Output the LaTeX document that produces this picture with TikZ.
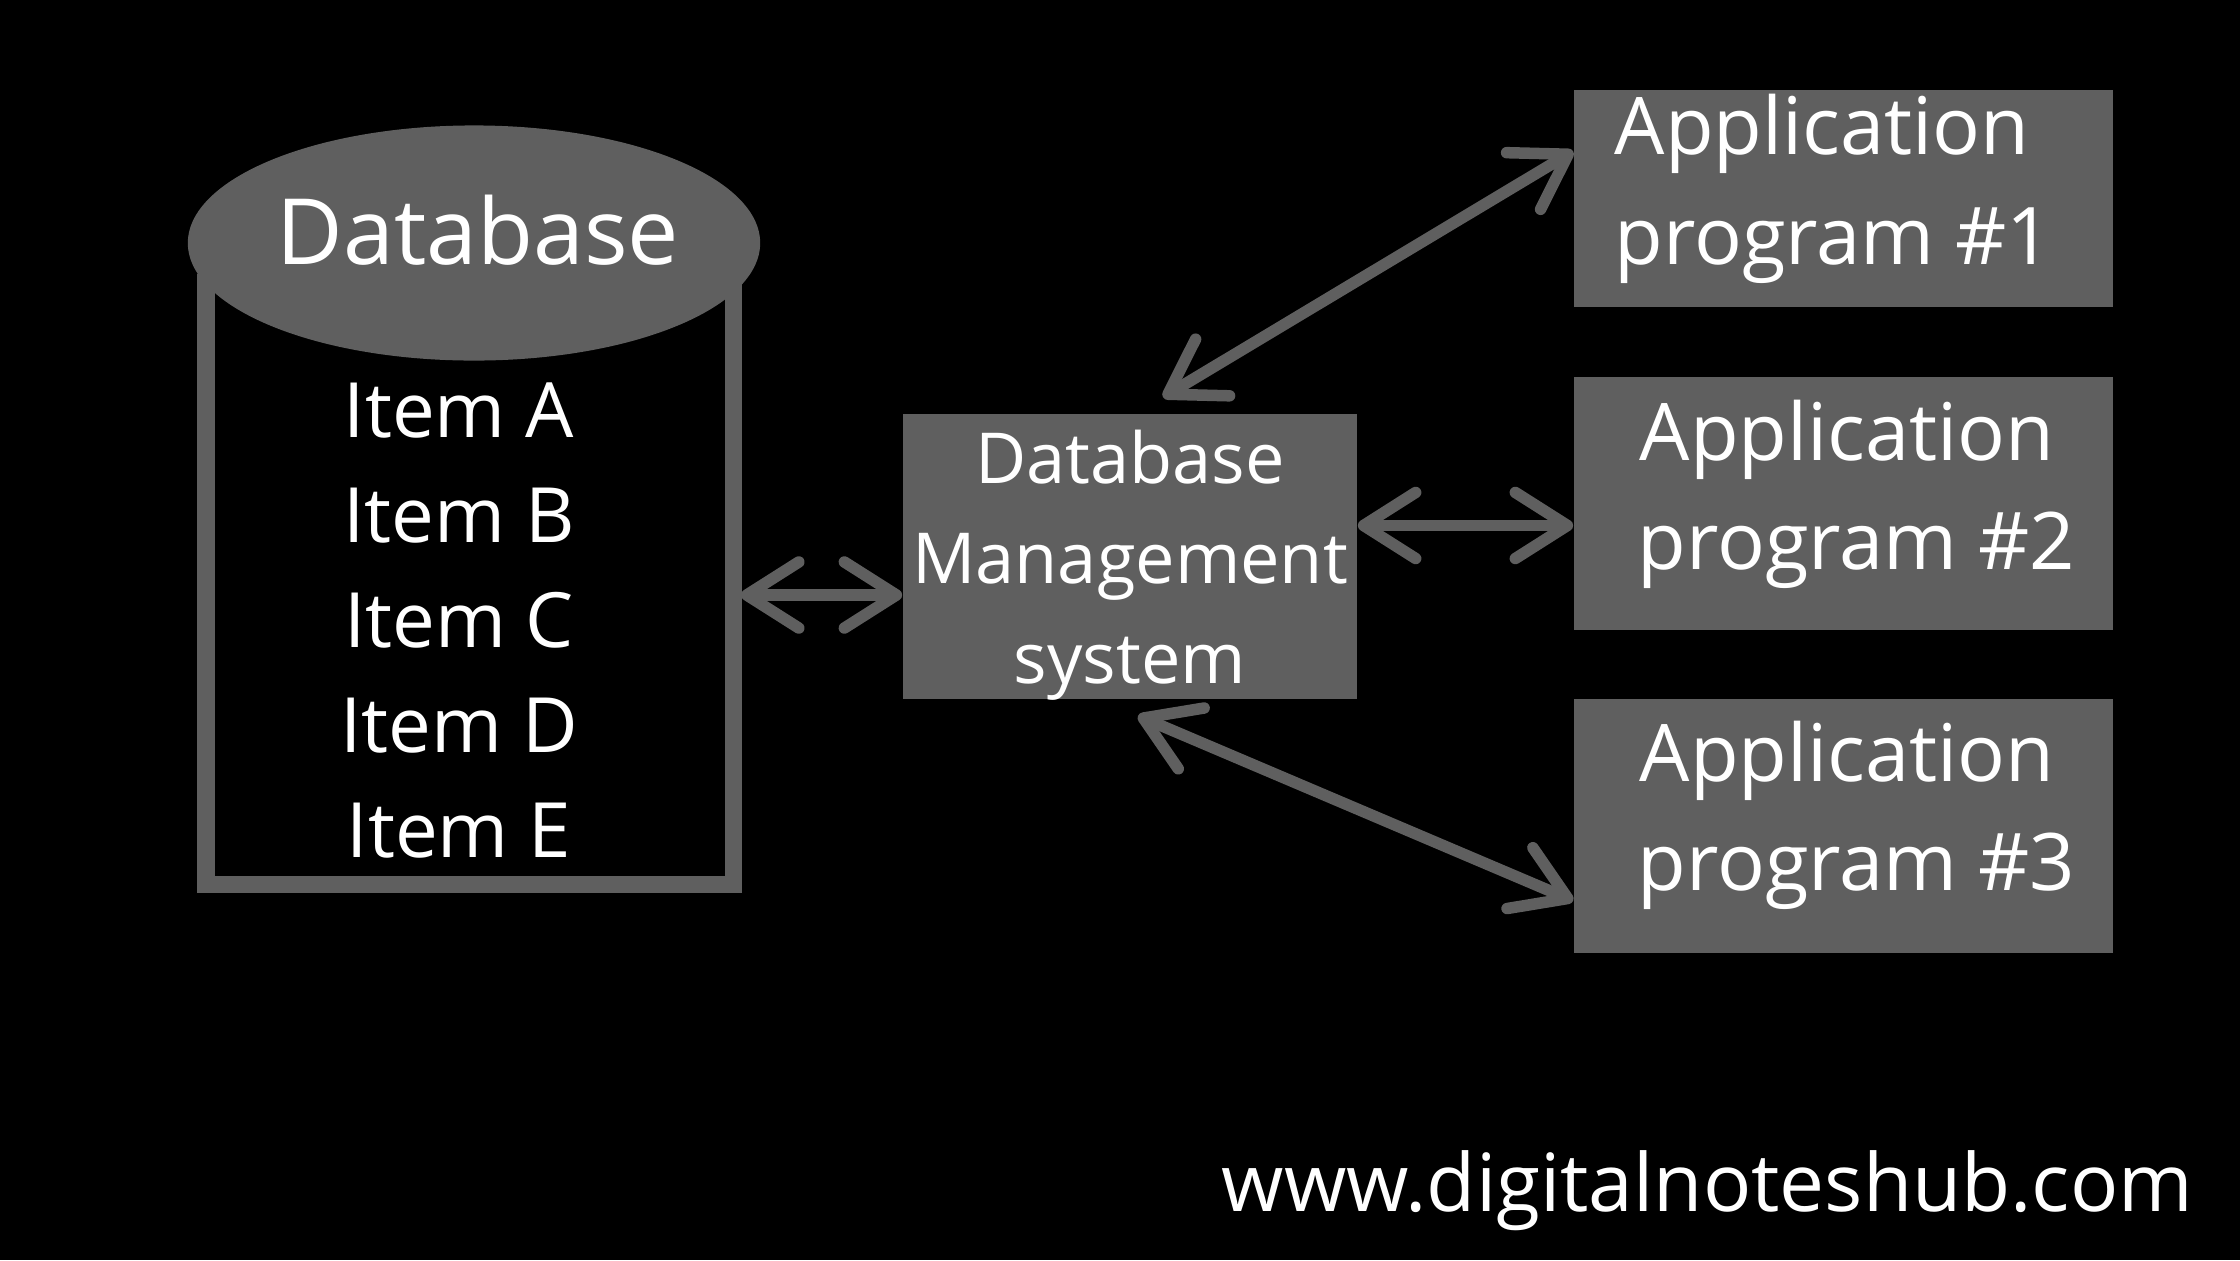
\documentclass[tikz,border=0pt]{standalone}
\usepackage{fontspec}
\setmainfont{Open Sans}
\usetikzlibrary{arrows.meta,shapes.geometric}
\definecolor{boxgray}{HTML}{5F5F5F}
\begin{document}
\begin{tikzpicture}[x=0.01cm,y=-0.01cm,
  box/.style={fill=boxgray, draw=none, inner sep=0, minimum width=5.39cm},
  txt/.style={text=white, inner sep=0},
  wall/.style={draw=boxgray, line width=1.7mm},
  itemtxt/.style={txt, anchor=base, font=\fontsize{21.7}{26}\selectfont},
  dbmstxt/.style={txt, anchor=base, font=\fontsize{20}{24}\selectfont},
  apptxt/.style={txt, anchor=base west, font=\fontsize{22.6}{27}\selectfont},
  link/.style={draw=boxgray, line width=1.15mm,
    {Straight Barb[length=5.2mm,width=6.6mm,round]}-{Straight Barb[length=5.2mm,width=6.6mm,round]}},
]
\fill[black] (0,0) rectangle (2240,1260);
\useasboundingbox (0,0) rectangle (2240,1260);

% database cylinder
\draw[wall] (206,274) -- (206,884) -- (733,884) -- (733,284);
\node[ellipse, fill=boxgray, inner sep=0, minimum width=5.72cm, minimum height=2.35cm] (dbtop) at (474,243) {};
\node[txt, anchor=base, font=\fontsize{26}{30}\selectfont] (dbtitle) at (478,264) {Database};
\node[itemtxt] (itA) at (459,437) {Item A};
\node[itemtxt] (itB) at (459,542) {Item B};
\node[itemtxt] (itC) at (459,647) {Item C};
\node[itemtxt] (itD) at (459,752) {Item D};
\node[itemtxt] (itE) at (459,857) {Item E};

% DBMS
\node[box, minimum width=4.54cm, minimum height=2.85cm] (dbms) at (1130,556.5) {};
\node[dbmstxt] (dbms1) at (1130,483) {Database};
\node[dbmstxt] (dbms2) at (1130,583) {Management};
\node[dbmstxt] (dbms3) at (1130,683) {system};

% applications
\node[box, minimum height=2.17cm] (app1) at (1843.5,198.5) {};
\node[box, minimum height=2.53cm] (app2) at (1843.5,503.5) {};
\node[box, minimum height=2.54cm] (app3) at (1843.5,826) {};
\node[apptxt] (app1a) at (1614,154) {Application};
\node[apptxt] (app1b) at (1614,264) {program \#1};
\node[apptxt] (app2a) at (1639,460) {Application};
\node[apptxt] (app2b) at (1637,569) {program \#2};
\node[apptxt] (app3a) at (1639,781) {Application};
\node[apptxt] (app3b) at (1637,890) {program \#3};

% connectors
\coordinate (dbport) at (741,595);
\draw[link] (dbport) -- (dbms.west |- dbport);
\draw[link] ([xshift=0.33cm,yshift=0.16cm]dbms.north) -- ([yshift=-0.62cm]app1.north west);
\coordinate (p2) at ([yshift=0.31cm]dbms.east);
\draw[link] (p2) -- (p2 -| app2.west);
\draw[link] ([xshift=0.08cm,yshift=-0.16cm]dbms.south) -- ([yshift=0.53cm]app3.south west);

% watermark
\node[txt, anchor=base west, font=\fontsize{22.8}{27}\selectfont] (web) at (1221,1211) {www.digitalnoteshub.com};
\end{tikzpicture}
\end{document}
